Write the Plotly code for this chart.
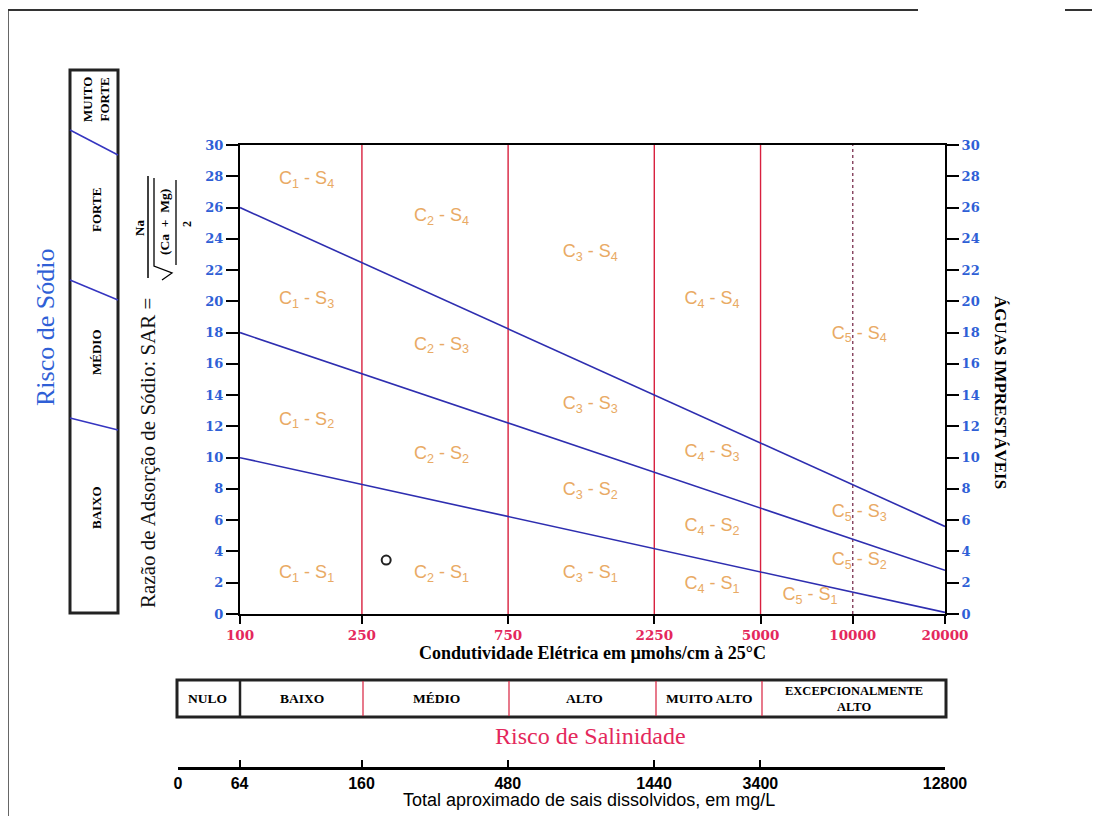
import plotly.graph_objects as go

# ---------------- data ----------------
ec_ticks = [100, 250, 750, 2250, 5000, 10000, 20000]
ec_tick_text = ["100", "250", "750", "2250", "5000", "10000", "20000"]
sar_ticks = list(range(0, 31, 2))

# sodium-hazard boundary lines (EC endpoints, SAR values)
line_ec = [100, 20000]
s1_s2 = [10.0, 0.1]
s2_s3 = [18.0, 2.8]
s3_s4 = [26.0, 5.6]

# salinity class boundaries
class_ec = [250, 750, 2250, 5000]
c5_split_ec = 10000

# class labels
label_text = [
    "C<sub>1</sub> - S<sub>4</sub>", "C<sub>1</sub> - S<sub>3</sub>", "C<sub>1</sub> - S<sub>2</sub>", "C<sub>1</sub> - S<sub>1</sub>",
    "C<sub>2</sub> - S<sub>4</sub>", "C<sub>2</sub> - S<sub>3</sub>", "C<sub>2</sub> - S<sub>2</sub>", "C<sub>2</sub> - S<sub>1</sub>",
    "C<sub>3</sub> - S<sub>4</sub>", "C<sub>3</sub> - S<sub>3</sub>", "C<sub>3</sub> - S<sub>2</sub>", "C<sub>3</sub> - S<sub>1</sub>",
    "C<sub>4</sub> - S<sub>4</sub>", "C<sub>4</sub> - S<sub>3</sub>", "C<sub>4</sub> - S<sub>2</sub>", "C<sub>4</sub> - S<sub>1</sub>",
    "C<sub>5</sub> - S<sub>4</sub>", "C<sub>5</sub> - S<sub>3</sub>", "C<sub>5</sub> - S<sub>2</sub>", "C<sub>5</sub> - S<sub>1</sub>",
]
label_ec = [165, 165, 165, 165,
            455, 455, 455, 455,
            1390, 1390, 1390, 1390,
            3470, 3470, 3470, 3470,
            10500, 10500, 10500, 7250]
label_sar = [27.8, 20.1, 12.4, 2.6,
             25.4, 17.2, 10.2, 2.6,
             23.1, 13.4, 7.9, 2.6,
             20.1, 10.3, 5.6, 1.9,
             17.9, 6.5, 3.4, 1.2]

# sample point
sample_ec = [300]
sample_sar = [3.45]

# TDS scale
tds_pos_ec = [63, 100, 250, 750, 2250, 5000, 20000]
tds_text = ["0", "64", "160", "480", "1440", "3400", "12800"]

salinity_classes = ["NULO", "BAIXO", "MÉDIO", "ALTO", "MUITO ALTO", "EXCEPCIONALMENTE<br>ALTO"]
sodium_classes = ["MUITO<br>FORTE", "FORTE", "MÉDIO", "BAIXO"]

# ---------------- layout helpers ----------------
# The page body has an 8px margin: the figure is drawn 8px smaller and
# positions below are given in window pixels.
OFF = 8
W, H = 1100 - OFF, 816 - OFF
ML, MR, MT, MB = 178 - OFF, 155, 145 - OFF, 48
PW, PH = W - ML - MR, H - MT - MB


def px(x):
    return (x - OFF - ML) / PW


def py(y):
    return (H - MB - (y - OFF)) / PH


BLUE = "#2f5fd6"
CRIMSON = "#e4285c"
LINE_BLUE = "#2e2eb0"
LABEL_COL = "#e9aa64"
SERIF = "Liberation Serif, DejaVu Serif, serif"
SLAB = "DejaVu Serif, Liberation Serif, serif"
NARROW = "Liberation Sans Narrow, Liberation Sans, sans-serif"

fig = go.Figure()

# vertical class boundaries
for ec in class_ec:
    fig.add_trace(go.Scatter(x=[ec, ec], y=[0, 30], mode="lines",
                             line=dict(color="#d8203e", width=1.4),
                             showlegend=False, hoverinfo="skip"))
fig.add_trace(go.Scatter(x=[c5_split_ec, c5_split_ec], y=[0, 30], mode="lines",
                         line=dict(color="#7a3050", width=1.3, dash="3px,3px"),
                         showlegend=False, hoverinfo="skip"))

# sodium hazard lines
for vals in (s1_s2, s2_s3):
    fig.add_trace(go.Scatter(x=line_ec, y=vals, mode="lines",
                             line=dict(color=LINE_BLUE, width=1.6),
                             showlegend=False, hoverinfo="skip"))
fig.add_trace(go.Scatter(x=line_ec, y=s3_s4, mode="lines", yaxis="y2",
                         line=dict(color=LINE_BLUE, width=1.6),
                         showlegend=False, hoverinfo="skip"))

# class labels
fig.add_trace(go.Scatter(x=label_ec, y=label_sar, mode="text", text=label_text,
                         textfont=dict(family="Liberation Sans, Arial, sans-serif", size=18, color=LABEL_COL),
                         showlegend=False, hoverinfo="skip"))

# sample
fig.add_trace(go.Scatter(x=sample_ec, y=sample_sar, mode="markers",
                         marker=dict(symbol="circle-open", size=9, color="#222222", line=dict(width=2)),
                         showlegend=False, hoverinfo="skip"))

# TDS axis carrier
fig.add_trace(go.Scatter(x=tds_pos_ec, y=[None] * len(tds_pos_ec), xaxis="x2", yaxis="y",
                         mode="markers", showlegend=False, hoverinfo="skip"))

ydom = [py(614), 1]
fig.update_layout(
    width=W, height=H,
    margin=dict(l=ML, r=MR, t=MT, b=MB, autoexpand=False),
    paper_bgcolor="white", plot_bgcolor="rgba(0,0,0,0)",
    xaxis=dict(type="log", range=[2, 4.30103], domain=[px(240), 1], anchor="y",
               tickvals=ec_ticks, ticktext=ec_tick_text, ticks="outside", ticklen=8,
               tickwidth=1.5, tickcolor="black",
               showline=True, linecolor="black", linewidth=2, mirror=True,
               showgrid=False, zeroline=False, automargin=False,
               tickfont=dict(family=SLAB, size=13.5, color=CRIMSON, weight="bold"),
               title=dict(text="Condutividade Elétrica em µmohs/cm à 25°C", standoff=4,
                          font=dict(family=SERIF, size=18, color="black", weight="bold"))),
    yaxis=dict(range=[0, 30], domain=ydom, anchor="x", tickvals=sar_ticks,
               ticks="outside", ticklen=12, tickwidth=1.5, tickcolor="black",
               showline=True, linecolor="black", linewidth=2,
               showgrid=False, zeroline=False, automargin=False,
               tickfont=dict(family=SLAB, size=13, color=BLUE, weight="bold")),
    yaxis2=dict(range=[0, 30], overlaying="y", side="right", anchor="x", tickvals=sar_ticks,
                ticks="outside", ticklen=12, tickwidth=1.5, tickcolor="black",
                showline=True, linecolor="black", linewidth=2,
                showgrid=False, zeroline=False, automargin=False,
                tickfont=dict(family=SLAB, size=13, color=BLUE, weight="bold")),
    xaxis2=dict(type="log", range=[1.79934, 4.30103], domain=[0, 1], anchor="free", position=0,
                tickvals=tds_pos_ec, ticktext=tds_text, ticks="inside", ticklen=7,
                tickwidth=1.5, tickcolor="black",
                showline=True, linecolor="black", linewidth=2.5,
                showgrid=False, zeroline=False, automargin=False,
                tickfont=dict(family=NARROW, size=16, color="black", weight="bold")),
)

shapes = []
ann = []


def label(text, x, y, size, color="black", angle=0, bold=False, family=SERIF):
    ann.append(dict(text=text, x=px(x), y=py(y), xref="paper", yref="paper", showarrow=False,
                    xanchor="center", yanchor="middle", textangle=angle,
                    font=dict(family=family, size=size, color=color,
                              weight="bold" if bold else "normal")))


def pline(x0, y0, x1, y1, color, width):
    shapes.append(dict(type="line", xref="paper", yref="paper", x0=px(x0), y0=py(y0), x1=px(x1), y1=py(y1),
                       line=dict(color=color, width=width)))


# scan frame lines
pline(8, 10, 8, 816, "#333333", 1.5)
pline(8, 10, 918, 10, "#333333", 2)
pline(1065, 10, 1100, 10, "#333333", 2)

# sodium hazard box
shapes.append(dict(type="rect", xref="paper", yref="paper", x0=px(70), x1=px(118), y0=py(70), y1=py(613),
                   line=dict(color="#222222", width=3)))
for (x0, y0, x1, y1) in [(70, 130, 118, 155), (70, 280, 118, 300), (70, 418, 118, 430)]:
    pline(x0, y0, x1, y1, "#3535c0", 1.5)
for txt, yc in zip(sodium_classes, [100, 210, 352, 508]):
    label(txt, 96, yc, 13, angle=-90, bold=True)
label("Risco de Sódio", 45, 328, 26, color=BLUE, angle=-90)

# SAR title and formula
label("Razão de Adsorção de Sódio: SAR =", 148, 453, 21, color="#111111", angle=-90)
label("Na", 139, 228, 13, angle=-90, bold=True)
pline(148, 176, 148, 278, "black", 1.5)
shapes.append(dict(type="path", xref="paper", yref="paper",
                   path=f"M {px(162)},{py(280)} L {px(172)},{py(273)} L {px(154)},{py(266)} L {px(154)},{py(178)}",
                   line=dict(color="black", width=1.3)))
label("(Ca  +  Mg)", 164, 222, 13.5, angle=-90, bold=True)
pline(176, 180, 176, 265, "black", 1.3)
label("2", 187, 224, 12, angle=-90, bold=True)

# right title
label("ÁGUAS IMPRESTÁVEIS", 1001, 393, 17, angle=90, bold=True)

# salinity hazard box
shapes.append(dict(type="rect", xref="paper", yref="paper", x0=px(177), x1=px(946), y0=py(680), y1=py(717),
                   line=dict(color="#222222", width=3)))
pline(240, 680, 240, 717, "#222222", 2.5)
for xb in [363, 509, 656, 762]:
    pline(xb, 681, xb, 716, "#d8203e", 1.2)
for txt, xc in zip(salinity_classes[:-1], [207, 302, 436, 584, 709]):
    label(txt, xc, 698.5, 13.5, bold=True)
label(salinity_classes[-1], 854, 698.5, 12.5, bold=True)
label("Risco de Salinidade", 590, 736, 24, color=CRIMSON)

# TDS axis title
label("Total aproximado de sais dissolvidos, em mg/L", 589, 800, 18, family=NARROW)

fig.update_layout(shapes=shapes, annotations=ann)
fig.write_html("out.html")
